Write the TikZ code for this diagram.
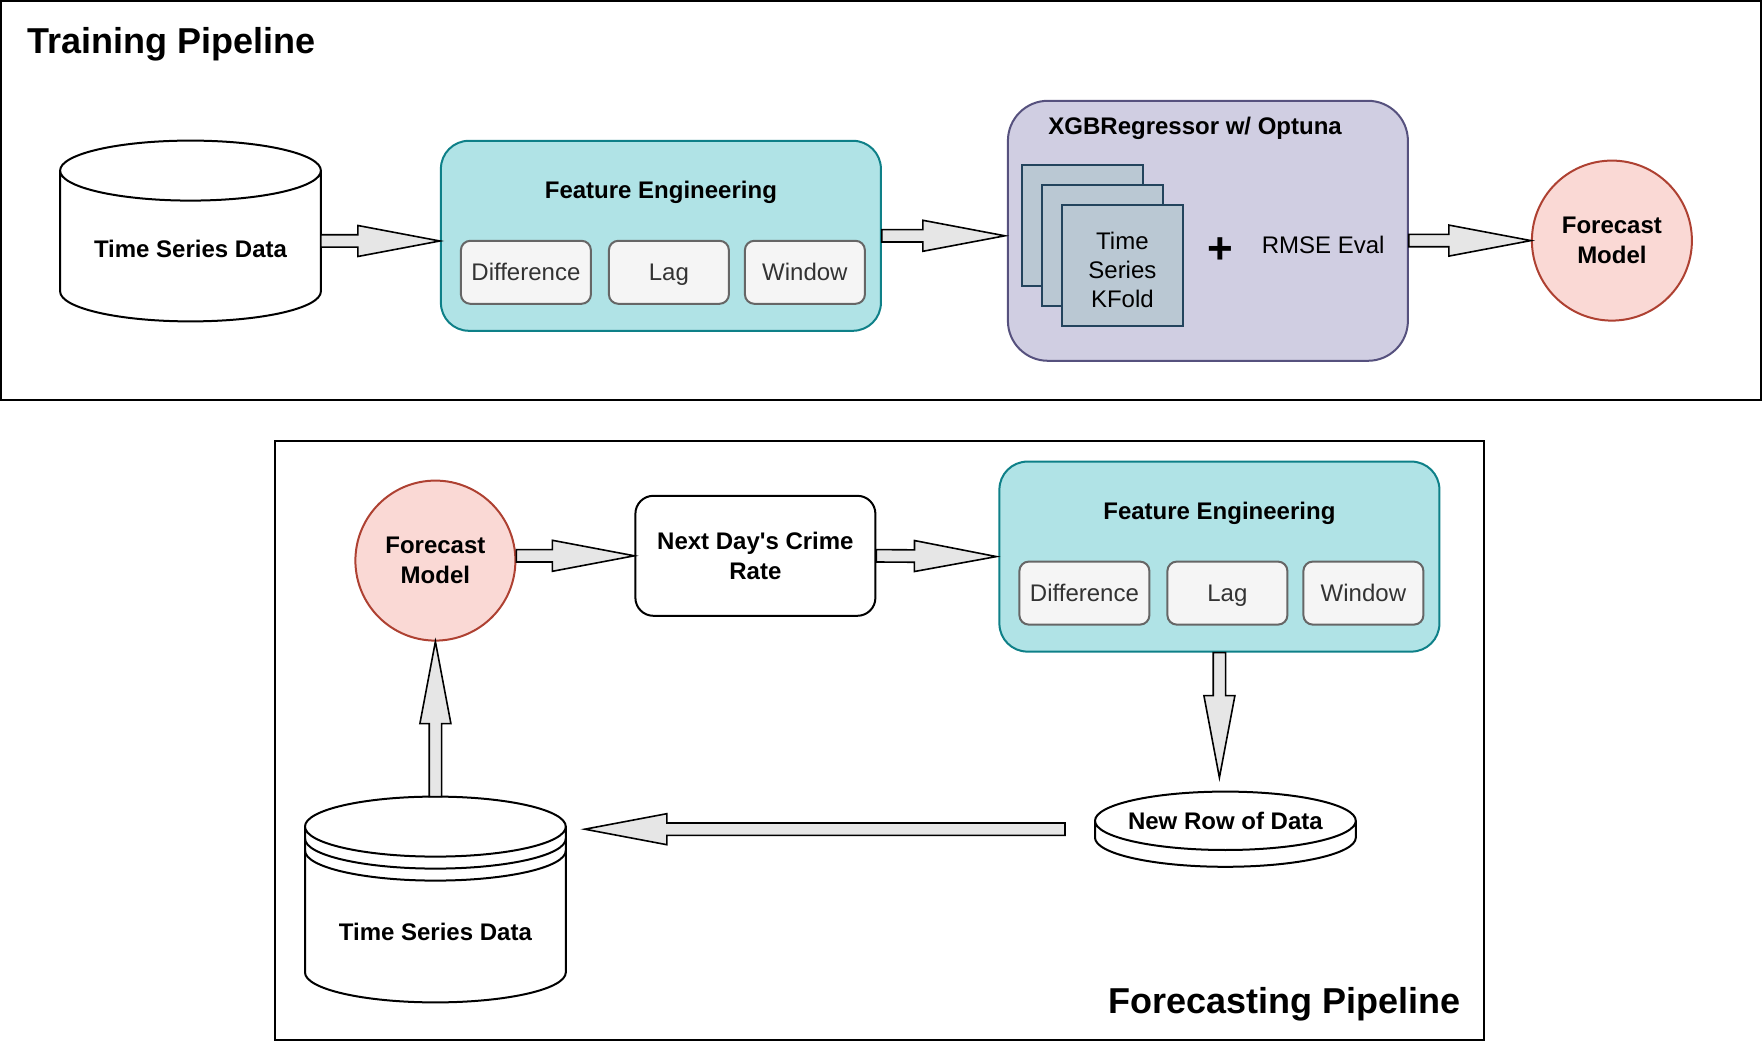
\documentclass[tikz,border=0pt]{standalone}
\usepackage{fontspec}
\setmainfont{Liberation Sans}
\usetikzlibrary{positioning,calc}

\definecolor{fefill}{HTML}{B0E3E6}
\definecolor{feline}{HTML}{0E8088}
\definecolor{opfill}{HTML}{F5F5F5}
\definecolor{opline}{HTML}{666666}
\definecolor{optext}{HTML}{333333}
\definecolor{xgbfill}{HTML}{D0CEE2}
\definecolor{xgbline}{HTML}{56517E}
\definecolor{modelfill}{HTML}{FAD9D5}
\definecolor{modelline}{HTML}{AE4132}
\definecolor{foldfill}{HTML}{BAC8D3}
\definecolor{foldline}{HTML}{23445D}
\definecolor{arrowfill}{HTML}{E6E6E6}

% block arrow from #1 to #2, gaps #3 / #4 at its ends
\newcommand{\fatarrow}[4]{%
  \coordinate (fa1) at ($(#1)!#3!(#2)$);
  \coordinate (fa2) at ($(#2)!#4!(#1)$);
  \coordinate (fah) at ($(fa2)!41pt!(fa1)$);
  \draw[fatarrow] ($(fa1)!3.1pt!90:(fa2)$) -- ($(fah)!3.1pt!90:(fa2)$)
    -- ($(fah)!7.75pt!90:(fa2)$) -- (fa2) -- ($(fah)!7.75pt!-90:(fa2)$)
    -- ($(fah)!3.1pt!-90:(fa2)$) -- ($(fa1)!3.1pt!-90:(fa2)$) -- cycle;
}

% cylinder outline round node #1, cap half height #2
\newcommand{\drum}[2]{%
  \draw[drumline] let \p1=(#1.north west), \p2=(#1.south east) in
    (\x1,\y1-#2) -- (\x1,\y2+#2)
    arc[start angle=180, end angle=360, x radius={(\x2-\x1)/2}, y radius=#2]
    -- (\x2,\y1-#2)
    arc[start angle=0, end angle=180, x radius={(\x2-\x1)/2}, y radius=#2]
    (\x1,\y1-#2)
    arc[start angle=180, end angle=360, x radius={(\x2-\x1)/2}, y radius=#2];
}

\begin{document}
\begin{tikzpicture}[
                x = 1pt,
                y = -1pt,
                every node/.style = {font = \fontsize{12}{14.5}\selectfont}
                ]

        \tikzstyle{frame}=[draw = black, line width = 1pt]
        \tikzstyle{pipetitle}=[inner sep = 0pt, font = \fontsize{18}{21.6}\selectfont\bfseries]
        \tikzstyle{store}=[minimum width = 130pt, inner sep = 0pt]
        \tikzstyle{storetext}=[font = \fontsize{12}{14.5}\selectfont\bfseries]
        \tikzstyle{drumline}=[draw = black, line width = 1pt]
        \tikzstyle{stage}=[
                draw = feline,
                fill = fefill,
                line width = 1pt,
                rounded corners = 14pt,
                minimum width = 220pt,
                minimum height = 95pt,
                inner sep = 0pt
        ]
        \tikzstyle{stagetitle}=[anchor = base, font = \fontsize{12}{14.5}\selectfont\bfseries]
        \tikzstyle{op}=[
                draw = opline,
                fill = opfill,
                text = optext,
                line width = 1pt,
                rounded corners = 4.7pt,
                minimum width = 60pt,
                minimum height = 31.5pt,
                text height = 8.7pt,
                text depth = 0.5pt,
                inner sep = 0pt
        ]
        \tikzstyle{trainer}=[
                draw = xgbline,
                fill = xgbfill,
                line width = 1pt,
                rounded corners = 20pt,
                minimum width = 200pt,
                minimum height = 130pt,
                inner sep = 0pt
        ]
        \tikzstyle{fold}=[
                draw = foldline,
                fill = foldfill,
                line width = 1pt,
                minimum size = 60.5pt,
                inner sep = 0pt
        ]
        \tikzstyle{model}=[
                circle,
                draw = modelline,
                fill = modelfill,
                line width = 1pt,
                minimum size = 80pt,
                inner sep = 0pt,
                align = center,
                font = \fontsize{12}{15}\selectfont\bfseries
        ]
        \tikzstyle{nextbox}=[
                draw = black,
                fill = white,
                line width = 1pt,
                rounded corners = 9pt,
                minimum width = 120pt,
                minimum height = 60pt,
                inner sep = 0pt,
                align = center,
                font = \fontsize{12}{15}\selectfont\bfseries
        ]
        \tikzstyle{fatarrow}=[draw = black, fill = arrowfill, line width = 0.8pt]

        \useasboundingbox (0,0) rectangle (881,521);

        % training pipeline
        \draw[frame] (0.6,0.6) rectangle (880.4,200);
        \node[pipetitle, anchor = base west] (traintitle) at (13.75,26.7) {Training Pipeline};

        \node[store, minimum height = 90pt,
              label = {[storetext, yshift = -9pt]center:Time Series Data}] (tsdA) at (95.25,115.5) {};
        \node[stage] (feA) [right = 59.5pt of tsdA, yshift = -2.4pt] {};
        \node[stagetitle] (feAtitle) at ([yshift = -29.3pt]feA.north) {Feature Engineering};
        \node[op, minimum width = 65pt, anchor = north west] (diffA) at ([xshift = 10pt, yshift = -50pt]feA.north west) {Difference};
        \node[op] (lagA) [right = 8pt of diffA] {Lag};
        \node[op] (winA) [right = 7pt of lagA] {Window};

        \node[trainer] (xgb) [right = 62.5pt of feA, yshift = 2.5pt] {};
        \node[stagetitle] (xgbtitle) at ([xshift = -6.4pt, yshift = -17.4pt]xgb.north) {XGBRegressor w/ Optuna};
        \node[fold, anchor = north west] (foldA) at ([xshift = 7pt, yshift = -32.2pt]xgb.north west) {};
        \node[fold, anchor = north west] (foldB) at ([xshift = 10pt, yshift = -10pt]foldA.north west) {};
        \node[fold, anchor = north west,
              label = {[align = center, yshift = -2pt]center:Time\\Series\\KFold}] (foldC) at ([xshift = 10pt, yshift = -10pt]foldB.north west) {};
        \node[font = \fontsize{22}{24}\selectfont\bfseries] (plus) at ([xshift = 18pt, yshift = 7.5pt]foldC.east) {+};
        \node (rmse) at ([xshift = -42.9pt, yshift = -7pt]xgb.east) {RMSE Eval};

        \node[model] (fmA) [right = 61pt of xgb, yshift = -4.9pt] {Forecast\\Model};

        \drum{tsdA}{15pt}

        \coordinate (a1) at ([yshift = -5pt]tsdA.east);
        \fatarrow{a1}{a1 -| feA.west}{0pt}{0pt}
        \fatarrow{feA.east}{feA.east -| xgb.west}{0pt}{1pt}
        \fatarrow{xgb.east |- fmA.west}{fmA.west}{0pt}{0pt}

        % forecasting pipeline
        \draw[frame] (137.7,220.5) rectangle (742,520);
        \node[pipetitle, anchor = base east] (forecasttitle) at (730.4,506.8) {Forecasting Pipeline};

        \node[model] (fmB) at (217.7,280.3) {Forecast\\Model};
        \node[nextbox] (ndcr) [right = 59pt of fmB, yshift = 2.4pt] {Next Day\textquotesingle s Crime\\Rate};
        \node[stage] (feB) [right = 61pt of ndcr, yshift = -0.4pt] {};
        \node[stagetitle] (feBtitle) at ([yshift = -29.5pt]feB.north) {Feature Engineering};
        \node[op, minimum width = 65pt, anchor = north west] (diffB) at ([xshift = 10pt, yshift = -50pt]feB.north west) {Difference};
        \node[op] (lagB) [right = 8pt of diffB] {Lag};
        \node[op] (winB) [right = 7pt of lagB] {Window};

        \node[store, minimum height = 37.2pt,
              label = {[storetext, yshift = 4.3pt]center:New Row of Data}] (nrd) [below = 69.5pt of feB, xshift = 3pt] {};
        \node[store, minimum height = 102.5pt,
              label = {[storetext, yshift = -16pt]center:Time Series Data}] (tsdB) [below = 77.5pt of fmB] {};

        \drum{nrd}{14.6pt}
        \drum{tsdB}{15pt}
        \foreach \ringgap in {6pt,12pt}
                \draw[drumline] let \p1=(tsdB.north west), \p2=(tsdB.south east) in
                        (\x1,\y1-15pt-\ringgap)
                        arc[start angle=180, end angle=360, x radius={(\x2-\x1)/2}, y radius=15pt];

        \fatarrow{ndcr.west -| fmB.east}{ndcr.west}{0pt}{0pt}
        \fatarrow{ndcr.east}{feB.west}{0pt}{1pt}
        \fatarrow{feB.south}{feB.south |- nrd.north}{0pt}{7pt}
        \fatarrow{nrd.west}{tsdB.east |- nrd.west}{15pt}{9.5pt}
        \fatarrow{tsdB.north}{fmB.south}{0pt}{0pt}
\end{tikzpicture}
\end{document}
